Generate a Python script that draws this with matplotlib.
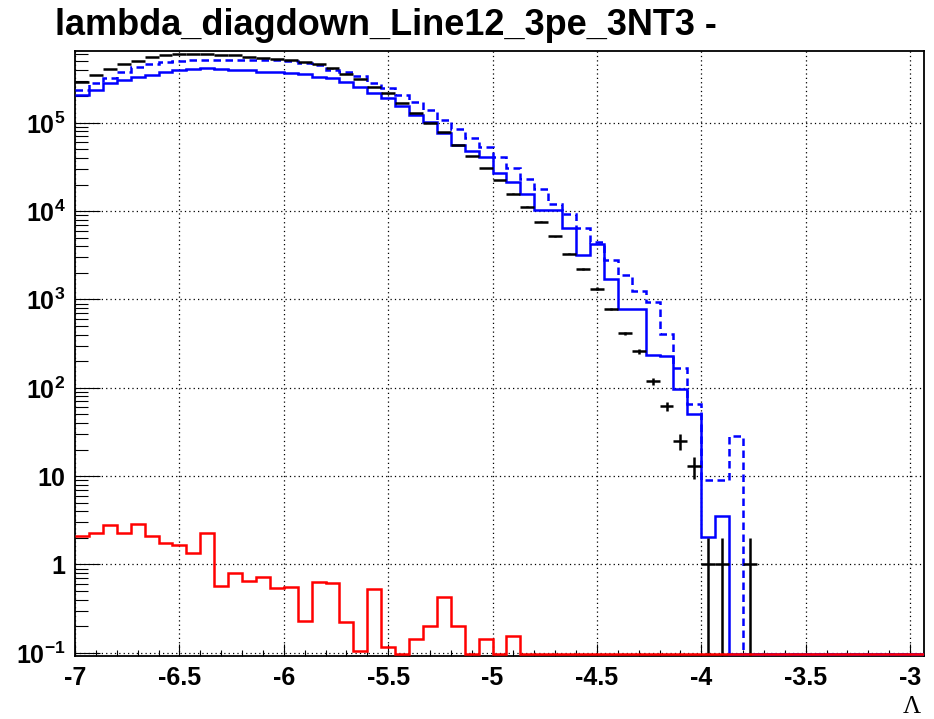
import numpy as np
import matplotlib.pyplot as plt
from matplotlib.ticker import FixedLocator, FuncFormatter, NullFormatter, MultipleLocator

plt.rcParams['font.family'] = ['Liberation Sans', 'DejaVu Sans']
plt.rcParams['font.weight'] = 'bold'
plt.rcParams['mathtext.fontset'] = 'custom'
plt.rcParams['mathtext.rm'] = 'Liberation Sans:bold'
plt.rcParams['mathtext.bf'] = 'Liberation Sans:bold'
plt.rcParams['mathtext.default'] = 'rm'

# 61 bins of width 1/15 starting at -7
x_lo = -7.0
bin_w = 1.0 / 15
n_bins = 61

data_counts = [
    2.91e5, 3.47e5, 4.03e5, 4.59e5, 5.04e5, 5.50e5, 5.80e5, 6.0e5, 6.0e5, 6.0e5,
    5.85e5, 5.84e5, 5.6e5, 5.45e5, 5.3e5, 5.1e5, 4.9e5, 4.6e5, 4.12e5, 3.6e5,
    3.1e5, 2.56e5, 2.15e5, 1.66e5, 1.28e5, 1.0e5, 7.8e4, 5.6e4, 4.2e4, 3.1e4,
    2.24e4, 1.58e4, 1.12e4, 7.6e3, 5.2e3, 3.3e3, 2.2e3, 1.33e3, 780, 412,
    260, 119, 62, 25, 13, 1, 1, 0, 1, 0,
    0, 0, 0, 0, 0, 0, 0, 0, 0, 0, 0,
]

mc_solid = [
    2.06e5, 2.35e5, 2.84e5, 3.04e5, 3.27e5, 3.47e5, 3.72e5, 3.95e5, 4.06e5, 4.13e5,
    4.06e5, 4.0e5, 4.0e5, 3.75e5, 3.72e5, 3.63e5, 3.6e5, 3.3e5, 3.18e5, 2.91e5,
    2.56e5, 2.2e5, 1.9e5, 1.56e5, 1.24e5, 1.01e5, 7.6e4, 5.6e4, 4.8e4, 4.1e4,
    2.72e4, 2.15e4, 1.58e4, 1.03e4, 1.03e4, 6.4e3, 3.2e3, 4.3e3, 1.69e3, 780,
    780, 238, 230, 98, 51, 2.02, 3.55, 0, 0, 0,
    0, 0, 0, 0, 0, 0, 0, 0, 0, 0, 0,
]

mc_dashed = [
    2.35e5, 2.79e5, 3.23e5, 3.72e5, 4.24e5, 4.6e5, 4.9e5, 5.05e5, 5.1e5, 5.15e5,
    5.15e5, 5.15e5, 5.15e5, 5.1e5, 5.1e5, 5.04e5, 4.8e5, 4.5e5, 4.0e5, 3.72e5,
    3.38e5, 2.79e5, 2.45e5, 2.06e5, 1.7e5, 1.39e5, 1.09e5, 8.6e4, 6.7e4, 5.3e4,
    4.12e4, 3.04e4, 2.3e4, 1.76e4, 1.22e4, 9.4e3, 6.5e3, 4.5e3, 2.8e3, 1.88e3,
    1.24e3, 940, 402, 166, 65, 9.0, 9.0, 28.4, 0, 0,
    0, 0, 0, 0, 0, 0, 0, 0, 0, 0, 0,
]

background = [
    2.11, 2.30, 2.79, 2.30, 2.84, 2.09, 1.76, 1.68, 1.35, 2.30,
    0.573, 0.81, 0.647, 0.713, 0.543, 0.558, 0.228, 0.64, 0.61, 0.224,
    0.106, 0.521, 0.117, 0, 0.142, 0.20, 0.43, 0.20, 0, 0.145,
    0, 0.154, 0, 0, 0, 0, 0, 0, 0, 0,
    0, 0, 0, 0, 0, 0, 0, 0, 0, 0,
    0, 0, 0, 0, 0, 0, 0, 0, 0, 0, 0,
]

title = 'lambda_diagdown_Line12_3pe_3NT3 -'
x_ticks = [-7, -6.5, -6, -5.5, -5, -4.5, -4, -3.5, -3]
y_ticks = [1e-1, 1, 10, 1e2, 1e3, 1e4, 1e5]
y_min, y_max = 0.092, 6.5e5

edges = x_lo + bin_w * np.arange(n_bins + 1)
centers = 0.5 * (edges[:-1] + edges[1:])

fig = plt.figure(figsize=(9.34, 7.19), dpi=100)
ax = fig.add_axes([75 / 934, 1 - 656 / 719, 849 / 934, 605 / 719])
ax.set_yscale('log')

# empty bins rest just above the lower frame, as ROOT draws them
floor = y_min * 1.04


def on_frame(vals):
    return np.clip(vals, floor, None)


lw = 1.8
ax.stairs(on_frame(mc_dashed), edges, baseline=None,
          color='#0000ff', lw=lw, ls=(0, (3, 1.8)), zorder=3)
ax.stairs(on_frame(mc_solid), edges, baseline=None,
          color='#0000ff', lw=lw, zorder=4)

counts = np.array(data_counts, dtype=float)
nz = counts > 0
err = np.sqrt(counts[nz])
low = counts[nz] - np.maximum(counts[nz] - err, y_min * 0.5)
ax.errorbar(centers[nz], counts[nz], xerr=bin_w / 2, yerr=[low, err],
            fmt='none', ecolor='black', elinewidth=lw, capsize=0, zorder=5)

ax.stairs(on_frame(background), edges, baseline=None,
          color='#ff0000', lw=lw, zorder=6)

ax.set_xlim(x_lo, edges[-1])
ax.set_ylim(y_min, y_max)

ax.xaxis.set_major_locator(FixedLocator(x_ticks))
ax.xaxis.set_minor_locator(MultipleLocator(0.1))
ax.xaxis.set_major_formatter(FuncFormatter(lambda v, p: '%g' % v))


def ylabel(v, pos):
    e = int(round(np.log10(v)))
    if e == 0:
        return '1'
    if e == 1:
        return '10'
    return r'$10^{%d}$' % e


y_minor = [m * 10.0 ** e for e in range(-2, 6) for m in range(2, 10)]
ax.yaxis.set_major_locator(FixedLocator(y_ticks))
ax.yaxis.set_minor_locator(FixedLocator(y_minor))
ax.yaxis.set_major_formatter(FuncFormatter(ylabel))
ax.yaxis.set_minor_formatter(NullFormatter())

ax.grid(True, which='major', color='black', ls=(0, (1, 2.5)), lw=0.9)
ax.tick_params(which='both', direction='in', top=False, right=False,
               width=0.8, labelsize=18)
ax.tick_params(axis='x', which='major', length=9, pad=7)
ax.tick_params(axis='x', which='minor', length=4.5)
ax.tick_params(axis='y', which='major', length=18, pad=7)
ax.tick_params(axis='y', which='minor', length=9)
for s in ax.spines.values():
    s.set_linewidth(1.3)

fig.text(55 / 934, 1 - 35 / 719, title, fontsize=26, fontweight='bold',
         ha='left', va='baseline')
fig.text(912 / 934, 1 - 707 / 719, '\u039b', fontsize=18,
         family=['Liberation Serif', 'DejaVu Serif'], fontweight='normal',
         ha='center', va='center')

fig.savefig('out.png', dpi=100)
